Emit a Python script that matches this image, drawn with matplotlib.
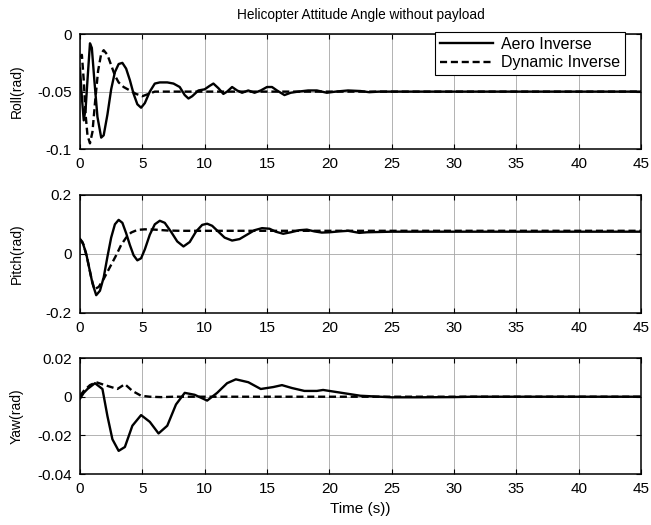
import numpy as np
import matplotlib
matplotlib.use("Agg")
import matplotlib.pyplot as plt

plt.rcParams['font.family'] = ['Liberation Sans', 'DejaVu Sans']
plt.rcParams['font.size'] = 11

# Roll response (rad)
roll_aero_t = [0.0, 0.15, 0.3, 0.45, 0.6, 0.8, 0.95, 1.15, 1.4, 1.7, 1.9, 2.2, 2.5, 2.8, 3.1, 3.4,
               3.7, 4.0, 4.3, 4.6, 4.9, 5.2, 5.6, 6.0, 6.4, 7.0, 7.5, 8.0, 8.4, 8.7, 9.0, 9.5,
               10.0, 10.4, 10.7, 11.1, 11.5, 11.8, 12.2, 12.6, 13.0, 13.5, 14.0, 14.5, 15.0,
               15.4, 15.8, 16.4, 16.9, 17.5, 18.3, 19.0, 19.8, 20.5, 21.5, 22.5, 23.2, 24.0, 45.0]
roll_aero_v = [-0.030, -0.055, -0.075, -0.065, -0.040, -0.008, -0.012, -0.040, -0.072, -0.090,
               -0.088, -0.070, -0.048, -0.033, -0.026, -0.025, -0.030, -0.040, -0.052, -0.061,
               -0.064, -0.060, -0.050, -0.043, -0.042, -0.042, -0.043, -0.046, -0.053, -0.056,
               -0.054, -0.049, -0.048, -0.045, -0.043, -0.047, -0.052, -0.050, -0.046, -0.049,
               -0.051, -0.049, -0.051, -0.049, -0.046, -0.046, -0.049, -0.053, -0.051, -0.050,
               -0.049, -0.049, -0.051, -0.050, -0.049, -0.0495, -0.0505, -0.050, -0.050]
roll_dyn_t = [0.0, 0.15, 0.3, 0.45, 0.6, 0.8, 1.0, 1.2, 1.45, 1.7, 1.9, 2.2, 2.5, 2.8, 3.1, 3.5,
              4.0, 4.5, 5.0, 5.5, 6.0, 7.0, 45.0]
roll_dyn_v = [-0.020, -0.018, -0.040, -0.070, -0.088, -0.095, -0.085, -0.060, -0.032, -0.017,
              -0.014, -0.018, -0.027, -0.036, -0.042, -0.046, -0.049, -0.052, -0.054, -0.052,
              -0.050, -0.050, -0.050]

# Pitch response (rad)
pitch_aero_t = [0.0, 0.2, 0.5, 0.8, 1.0, 1.3, 1.6, 1.9, 2.2, 2.5, 2.8, 3.1, 3.4, 3.7, 4.0, 4.3,
                4.6, 4.9, 5.2, 5.6, 6.0, 6.4, 6.8, 7.3, 7.8, 8.3, 8.8, 9.3, 9.8, 10.2, 10.6,
                11.1, 11.6, 12.2, 12.8, 13.4, 14.0, 14.6, 15.2, 15.7, 16.3, 16.9, 17.6, 18.2,
                18.8, 19.4, 20.0, 20.8, 21.5, 22.4, 23.0, 24.0, 25.0, 45.0]
pitch_aero_v = [0.050, 0.040, 0.000, -0.060, -0.100, -0.140, -0.125, -0.080, -0.010, 0.055,
                0.100, 0.115, 0.105, 0.070, 0.030, -0.005, -0.022, -0.015, 0.015, 0.065, 0.100,
                0.112, 0.105, 0.075, 0.042, 0.025, 0.040, 0.075, 0.098, 0.102, 0.095, 0.075,
                0.055, 0.045, 0.050, 0.065, 0.080, 0.087, 0.085, 0.075, 0.068, 0.073, 0.080,
                0.082, 0.076, 0.072, 0.073, 0.076, 0.078, 0.071, 0.073, 0.074, 0.075, 0.075]
pitch_dyn_t = [0.0, 0.3, 0.6, 0.9, 1.15, 1.5, 1.9, 2.4, 2.9, 3.3, 3.7, 4.1, 4.6, 5.2, 6.0, 7.0,
               8.0, 45.0]
pitch_dyn_v = [0.050, 0.030, -0.020, -0.080, -0.120, -0.112, -0.085, -0.045, -0.005, 0.030,
               0.055, 0.072, 0.081, 0.083, 0.082, 0.079, 0.078, 0.078]

# Yaw response (rad)
yaw_aero_t = [0.0, 0.3, 0.6, 1.2, 1.8, 2.2, 2.6, 3.1, 3.6, 4.2, 4.9, 5.6, 6.3, 7.0, 7.7, 8.4,
              9.2, 10.2, 11.0, 11.8, 12.5, 13.5, 14.5, 15.5, 16.2, 17.0, 18.0, 19.0, 19.5,
              20.5, 21.5, 22.5, 25.0, 27.0, 30.0, 31.5, 45.0]
yaw_aero_v = [-0.001, 0.002, 0.004, 0.007, 0.004, -0.010, -0.022, -0.028, -0.026, -0.015,
              -0.0095, -0.013, -0.019, -0.015, -0.004, 0.002, 0.001, -0.002, 0.002, 0.007,
              0.009, 0.0075, 0.004, 0.005, 0.006, 0.0045, 0.003, 0.003, 0.0035, 0.0025, 0.0015,
              0.0005, -0.0003, -0.0003, -0.0002, 0.0, 0.0]
yaw_dyn_t = [0.0, 0.3, 0.8, 1.3, 2.0, 3.0, 3.6, 4.2, 4.9, 5.6, 6.5, 7.5, 45.0]
yaw_dyn_v = [0.0005, 0.003, 0.006, 0.0075, 0.006, 0.004, 0.0065, 0.003, 0.0005, 0.0, -0.0002,
             0.0, 0.0]

panels = [
    ("Roll(rad)", roll_aero_t, roll_aero_v, roll_dyn_t, roll_dyn_v, (-0.1, 0), [-0.1, -0.05, 0], ["-0.1", "-0.05", "0"]),
    ("Pitch(rad)", pitch_aero_t, pitch_aero_v, pitch_dyn_t, pitch_dyn_v, (-0.2, 0.2), [-0.2, 0, 0.2], ["-0.2", "0", "0.2"]),
    ("Yaw(rad)", yaw_aero_t, yaw_aero_v, yaw_dyn_t, yaw_dyn_v, (-0.04, 0.02), [-0.04, -0.02, 0, 0.02], ["-0.04", "-0.02", "0", "0.02"]),
]

fig = plt.figure(figsize=(6.51, 5.25), dpi=100)
boxes = [(0.716, 0.935), (0.404, 0.629), (0.097, 0.318)]
left, right = 80 / 651, 641 / 651
axes = []
for (bot, top), (ylab, at, av, dt, dv, ylim, yt, ytl) in zip(boxes, panels):
    ax = fig.add_axes([left, bot, right - left, top - bot])
    ax.plot(at, av, color="black", lw=1.7, ls="-", label="Aero Inverse")
    ax.plot(dt, dv, color="black", lw=1.7, ls=(0, (3, 1.6)), label="Dynamic Inverse")
    ax.set_xlim(0, 45)
    ax.set_ylim(*ylim)
    ax.set_xticks(np.arange(0, 46, 5))
    ax.set_yticks(yt)
    ax.set_yticklabels(ytl)
    ax.grid(True, color="0.65", lw=0.6)
    ax.tick_params(direction="in", top=True, right=True, length=3.5, width=0.8, labelsize=11, pad=6)
    for s in ax.spines.values():
        s.set_linewidth(1.1)
    ax.set_ylabel(ylab, fontsize=10)
    ax.yaxis.set_label_coords(-0.1, 0.5)
    axes.append(ax)

axes[0].set_title("Helicopter Attitude Angle without payload", fontsize=9.8, pad=11)
axes[2].set_xlabel("Time (s))", fontsize=11, labelpad=4)
leg = axes[0].legend(loc="upper right", bbox_to_anchor=(0.971, 1.017), fontsize=11.5,
                     handlelength=3.3, frameon=True, fancybox=False, borderpad=0.3,
                     labelspacing=0.2, handletextpad=0.5, borderaxespad=0.0, framealpha=1)
leg.get_frame().set_edgecolor("black")
leg.get_frame().set_linewidth(0.8)

fig.savefig("out.png", dpi=100)
